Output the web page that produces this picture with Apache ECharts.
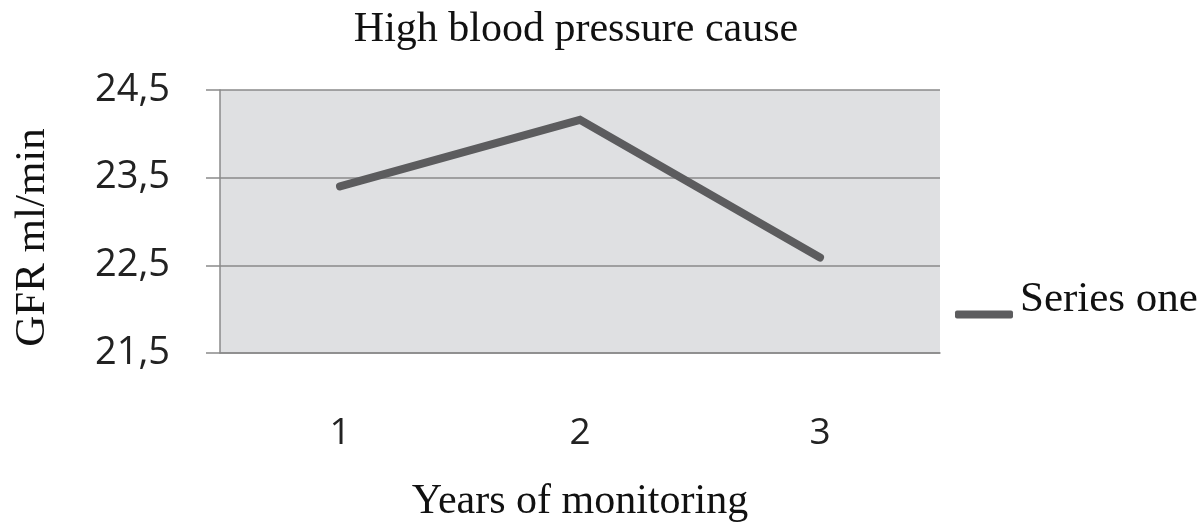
<!DOCTYPE html>
<html>
<head>
<meta charset="utf-8">
<script src="https://cdn.jsdelivr.net/npm/echarts@6/dist/echarts.min.js"></script>
<style>
  html, body { margin: 0; padding: 0; background: #fff; }
  #chart { width: 1201px; height: 527px; }
</style>
</head>
<body>
<div id="chart"></div>
<script>
const years = ["1", "2", "3"];
const gfrValues = [23.4, 24.16, 22.59];
const yTicks = [21.5, 22.5, 23.5, 24.5];

const chart = echarts.init(document.getElementById("chart"));
chart.setOption({
  animation: false,
  title: {
    text: "High blood pressure cause",
    left: 571,
    textAlign: "center",
    top: 4,
    textStyle: {
      fontFamily: "Liberation Serif",
      fontWeight: "normal",
      fontSize: 42,
      color: "#111"
    }
  },
  legend: {
    data: ["Series one"],
    left: 950,
    top: 273,
    padding: 5,
    icon: "roundRect",
    itemWidth: 58,
    itemHeight: 8,
    itemGap: 0,
    // second empty line lifts the text above the icon
    formatter: name => name + "\n ",
    textStyle: {
      fontFamily: "Liberation Serif",
      fontSize: 43,
      lineHeight: 30,
      color: "#111",
      padding: [0, 0, 0, 2]
    }
  },
  grid: {
    left: 220,
    right: 261,
    top: 90,
    bottom: 174,
    outerBoundsMode: "none",
    show: true,
    backgroundColor: "#dfe0e2",
    borderWidth: 0
  },
  xAxis: {
    type: "category",
    data: years,
    boundaryGap: true,
    name: "Years of monitoring",
    nameLocation: "middle",
    nameGap: 128,
    nameTextStyle: {
      fontFamily: "Liberation Serif",
      fontSize: 42,
      color: "#111"
    },
    axisLine: { show: true, lineStyle: { color: "#8a8a8a", width: 1.5 } },
    axisTick: { show: false },
    axisLabel: {
      margin: 62,
      fontFamily: "Open Sans",
      fontSize: 37,
      color: "#222"
    }
  },
  yAxis: {
    type: "value",
    min: yTicks[0],
    max: yTicks[yTicks.length - 1],
    interval: 1,
    name: "GFR ml/min",
    nameLocation: "middle",
    nameGap: 166,
    nameTextStyle: {
      fontFamily: "Liberation Serif",
      fontSize: 43,
      color: "#111",
      padding: [0, 32, 0, 0]
    },
    axisLine: { show: true, lineStyle: { color: "#8a8a8a", width: 1.5 } },
    axisTick: { show: true, length: 14, lineStyle: { color: "#8a8a8a", width: 1.5 } },
    splitLine: { show: true, lineStyle: { color: "#8a8a8a", width: 1.5 } },
    axisLabel: {
      margin: 50,
      fontFamily: "Open Sans",
      fontSize: 38,
      color: "#222",
      formatter: v => String(v).replace(".", ",")
    }
  },
  series: [
    {
      name: "Series one",
      type: "line",
      data: gfrValues,
      symbol: "none",
      lineStyle: { color: "#5c5c5e", width: 8, cap: "round", join: "miter" },
      itemStyle: { color: "#5c5c5e" }
    }
  ]
});
</script>
</body>
</html>
